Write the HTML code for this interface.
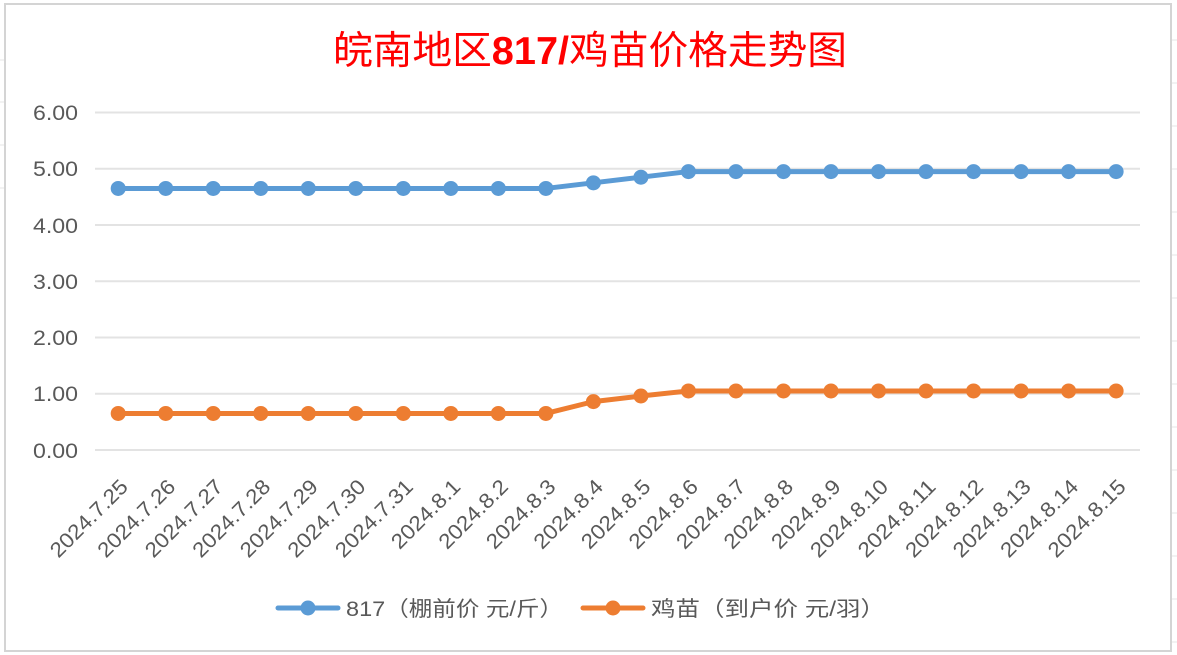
<!DOCTYPE html>
<html><head><meta charset="utf-8"><style>
html,body{margin:0;padding:0;background:#fff;}
svg{display:block;}
text{font-family:"Liberation Sans","Noto Sans CJK SC",sans-serif;}
</style></head><body>
<svg width="1177" height="655" viewBox="0 0 1177 655" xmlns="http://www.w3.org/2000/svg">
<rect x="0" y="0" width="1177" height="655" fill="#fff"/>
<g stroke="#e4e4e4" stroke-width="1">
<line x1="0" y1="60" x2="5" y2="60"/><line x1="0" y1="102" x2="5" y2="102"/><line x1="0" y1="145" x2="5" y2="145"/><line x1="0" y1="188" x2="5" y2="188"/>
<line x1="1172" y1="40" x2="1177" y2="40"/><line x1="1172" y1="83" x2="1177" y2="83"/><line x1="1172" y1="126" x2="1177" y2="126"/><line x1="1172" y1="169" x2="1177" y2="169"/><line x1="1172" y1="212" x2="1177" y2="212"/><line x1="1172" y1="255" x2="1177" y2="255"/><line x1="1172" y1="298" x2="1177" y2="298"/><line x1="1172" y1="341" x2="1177" y2="341"/><line x1="1172" y1="384" x2="1177" y2="384"/><line x1="1172" y1="427" x2="1177" y2="427"/><line x1="1172" y1="470" x2="1177" y2="470"/><line x1="1172" y1="513" x2="1177" y2="513"/><line x1="1172" y1="556" x2="1177" y2="556"/><line x1="1172" y1="599" x2="1177" y2="599"/><line x1="1172" y1="642" x2="1177" y2="642"/>
</g>
<rect x="5" y="4" width="1166" height="647" fill="#fff" stroke="#d4d4d4" stroke-width="2"/>
<text x="590" y="64" font-size="39" fill="#ff0000" text-anchor="middle" textLength="514" lengthAdjust="spacingAndGlyphs">皖南地区<tspan font-weight="bold">817/</tspan>鸡苗价格走势图</text>
<g stroke="#e3e3e3" stroke-width="2">
<line x1="95" y1="112.5" x2="1140" y2="112.5"/>
<line x1="95" y1="168.75" x2="1140" y2="168.75"/>
<line x1="95" y1="225" x2="1140" y2="225"/>
<line x1="95" y1="281.25" x2="1140" y2="281.25"/>
<line x1="95" y1="337.5" x2="1140" y2="337.5"/>
<line x1="95" y1="393.75" x2="1140" y2="393.75"/>
<line x1="95" y1="450" x2="1140" y2="450"/>
</g>
<g font-size="21" fill="#595959" text-anchor="end">
<text x="78" y="120" textLength="45" lengthAdjust="spacingAndGlyphs">6.00</text>
<text x="78" y="176" textLength="45" lengthAdjust="spacingAndGlyphs">5.00</text>
<text x="78" y="233" textLength="45" lengthAdjust="spacingAndGlyphs">4.00</text>
<text x="78" y="289" textLength="45" lengthAdjust="spacingAndGlyphs">3.00</text>
<text x="78" y="345" textLength="45" lengthAdjust="spacingAndGlyphs">2.00</text>
<text x="78" y="401" textLength="45" lengthAdjust="spacingAndGlyphs">1.00</text>
<text x="78" y="458" textLength="45" lengthAdjust="spacingAndGlyphs">0.00</text>
</g>
<g id="labels" font-size="21" fill="#595959" text-anchor="end"></g>
<polyline id="l1" fill="none" stroke="#5b9bd5" stroke-width="5" stroke-linejoin="round"/>
<polyline id="l2" fill="none" stroke="#ed7d31" stroke-width="5" stroke-linejoin="round"/>
<g id="m1" fill="#5b9bd5"></g>
<g id="m2" fill="#ed7d31"></g>
<line x1="278" y1="608" x2="338" y2="608" stroke="#5b9bd5" stroke-width="5" stroke-linecap="round"/>
<circle cx="308" cy="608" r="7.5" fill="#5b9bd5"/>
<text x="346" y="616" font-size="21" fill="#595959" textLength="217" lengthAdjust="spacingAndGlyphs">817（棚前价 元/斤）</text>
<line x1="583" y1="608" x2="643" y2="608" stroke="#ed7d31" stroke-width="5" stroke-linecap="round"/>
<circle cx="613" cy="608" r="7.5" fill="#ed7d31"/>
<text x="651" y="616" font-size="21" fill="#595959" textLength="234" lengthAdjust="spacingAndGlyphs">鸡苗（到户价 元/羽）</text>
</svg>
<script>
var ns="http://www.w3.org/2000/svg";
var dates=["2024.7.25","2024.7.26","2024.7.27","2024.7.28","2024.7.29","2024.7.30","2024.7.31","2024.8.1","2024.8.2","2024.8.3","2024.8.4","2024.8.5","2024.8.6","2024.8.7","2024.8.8","2024.8.9","2024.8.10","2024.8.11","2024.8.12","2024.8.13","2024.8.14","2024.8.15"];
var a=[],b=[];
for(var i=0;i<22;i++){a.push(i<10?4.65:i==10?4.75:i==11?4.85:4.95);b.push(i<10?0.65:i==10?0.86:i==11?0.96:1.05);}
function X(i){return 118.2+i*47.52;}
function Y(v){return 450-v*56.25;}
var p1=[],p2=[];
var m1=document.getElementById("m1"),m2=document.getElementById("m2"),lb=document.getElementById("labels");
for(var i=0;i<22;i++){
 p1.push(X(i)+","+Y(a[i]));p2.push(X(i)+","+Y(b[i]));
 [[m1,a[i]],[m2,b[i]]].forEach(function(q){var c=document.createElementNS(ns,"circle");c.setAttribute("cx",X(i));c.setAttribute("cy",Y(q[1]));c.setAttribute("r","7.5");q[0].appendChild(c);});
 var t=document.createElementNS(ns,"text");var x=X(i)+11,y=488;
 t.setAttribute("x",x);t.setAttribute("y",y);t.setAttribute("transform","rotate(-45 "+x+" "+y+")");
 var len=dates[i].length==8?88:100;
 t.setAttribute("textLength",len);t.setAttribute("lengthAdjust","spacingAndGlyphs");
 t.textContent=dates[i];lb.appendChild(t);
}
document.getElementById("l1").setAttribute("points",p1.join(" "));
document.getElementById("l2").setAttribute("points",p2.join(" "));
</script>
</body></html>
